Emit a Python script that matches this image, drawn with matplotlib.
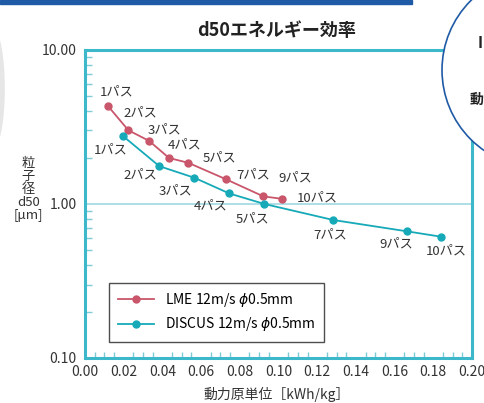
import matplotlib
matplotlib.use("Agg")
import matplotlib.pyplot as plt
from matplotlib.patches import Circle, Ellipse, Rectangle
from matplotlib.ticker import FixedLocator, NullFormatter, MultipleLocator

plt.rcParams['font.family'] = ['Noto Sans CJK JP', 'DejaVu Sans']

# data
lme_x = [0.0117, 0.0224, 0.0331, 0.0434, 0.0534, 0.0727, 0.0922, 0.1018]
lme_y = [4.35, 3.01, 2.57, 1.99, 1.85, 1.45, 1.12, 1.08]
lme_labels = ["1パス", "2パス", "3パス", "4パス", "5パス", "7パス", "9パス", "10パス"]
# label offsets (pixels) from each point
lme_off = [(9, 14), (12, 17), (16, 11), (16, 13), (31, 5), (28, 4), (32, 18), (35, 1)]

discus_x = [0.0198, 0.0384, 0.0565, 0.0746, 0.0927, 0.1283, 0.1662, 0.1840]
discus_y = [2.75, 1.76, 1.48, 1.17, 1.00, 0.787, 0.665, 0.613]
discus_labels = ["1パス", "2パス", "3パス", "4パス", "5パス", "7パス", "9パス", "10パス"]
discus_off = [(-13, -14), (-19, -9), (-19, -13), (-19, -12), (-12, -15), (-3, -15), (-10, -13), (5, -14)]

x_ticks = [0.00, 0.02, 0.04, 0.06, 0.08, 0.10, 0.12, 0.14, 0.16, 0.18, 0.20]
y_ticks = [0.1, 1.0, 10.0]

red = '#c9566b'
teal = '#16aab8'
spine_c = '#3db8ca'

fig = plt.figure(figsize=(4.85, 4.03), dpi=100)
ax = fig.add_axes([0.1753, 0.1117, 0.7979, 0.7643])

ax.set_yscale('log')
ax.set_xlim(0, 0.20)
ax.set_ylim(0.1, 10)

ax.axhline(1.0, color='#9fd8e3', lw=1.2, zorder=1)

ax.plot(lme_x, lme_y, '-o', color=red, lw=1.3, ms=5, zorder=3,
        label="LME 12m/s $\\phi$0.5mm")
ax.plot(discus_x, discus_y, '-o', color=teal, lw=1.3, ms=5, zorder=3,
        label="DISCUS 12m/s $\\phi$0.5mm")

for x, y, t, o in zip(lme_x, lme_y, lme_labels, lme_off):
    ax.annotate(t, (x, y), xytext=o, textcoords='offset pixels',
                ha='center', va='center', fontsize=9.5, color='#333333')
for x, y, t, o in zip(discus_x, discus_y, discus_labels, discus_off):
    ax.annotate(t, (x, y), xytext=o, textcoords='offset pixels',
                ha='center', va='center', fontsize=9.5, color='#333333')

for s in ax.spines.values():
    s.set_color(spine_c)
    s.set_linewidth(2.2)

ax.yaxis.set_major_locator(FixedLocator(y_ticks))
ax.set_yticklabels(["%.2f" % v for v in y_ticks])
ax.yaxis.set_minor_formatter(NullFormatter())
ax.set_xticks(x_ticks)
ax.set_xticklabels(["%.2f" % v for v in x_ticks])
ax.xaxis.set_minor_locator(MultipleLocator(0.005))
ax.tick_params(axis='both', which='both', direction='in', color='#7fcbd8',
               labelsize=10, labelcolor='#333333')
ax.tick_params(axis='y', which='major', length=0, pad=6)
ax.tick_params(axis='y', which='minor', length=5, width=1)
ax.tick_params(axis='x', which='major', length=0, pad=5)
ax.tick_params(axis='x', which='minor', length=4, width=1)
ax.tick_params(right=False, top=False)

leg = ax.legend(loc='lower left', bbox_to_anchor=(0.045, 0.03), fontsize=10,
                frameon=True, fancybox=False, edgecolor='#222222',
                handlelength=2.6, borderpad=0.6, labelspacing=0.45)
leg.get_frame().set_linewidth(1.0)

fig.text(0.571, 0.925, "d50エネルギー効率", ha='center', va='center',
         fontsize=13, fontweight='bold', color='#222222')
fig.text(0.058, 0.53, "粒\n子\n径\nd50\n[μm]", ha='center', va='center',
         fontsize=9.5, color='#333333', linespacing=1.0)
fig.text(0.571, 0.02, "動力原単位［kWh/kg］", ha='center', va='center',
         fontsize=10, color='#333333')

# decorations around the chart
fig.patches.append(Rectangle((0, 0.99), 0.85, 0.01, transform=fig.transFigure,
                             color='#1f5aa6', zorder=5))
fig.patches.append(Ellipse((-0.015, 0.78), 0.05, 0.3, transform=fig.transFigure,
                           facecolor='#e6e6e6', edgecolor='none', zorder=0))
circ = Circle((540, 403 - 70), 98, transform=None, facecolor='white',
              edgecolor='#1f5aa6', lw=1.2, zorder=6)
fig.patches.append(circ)
fig.text(478 / 485, 1 - 43 / 403, "I", ha='left', va='center', fontsize=11,
         fontweight='bold', color='#222222', zorder=7)
fig.text(470 / 485, 1 - 100 / 403, "動", ha='left', va='center', fontsize=10,
         fontweight='bold', color='#222222', zorder=7)

fig.savefig("out.png", dpi=100)
